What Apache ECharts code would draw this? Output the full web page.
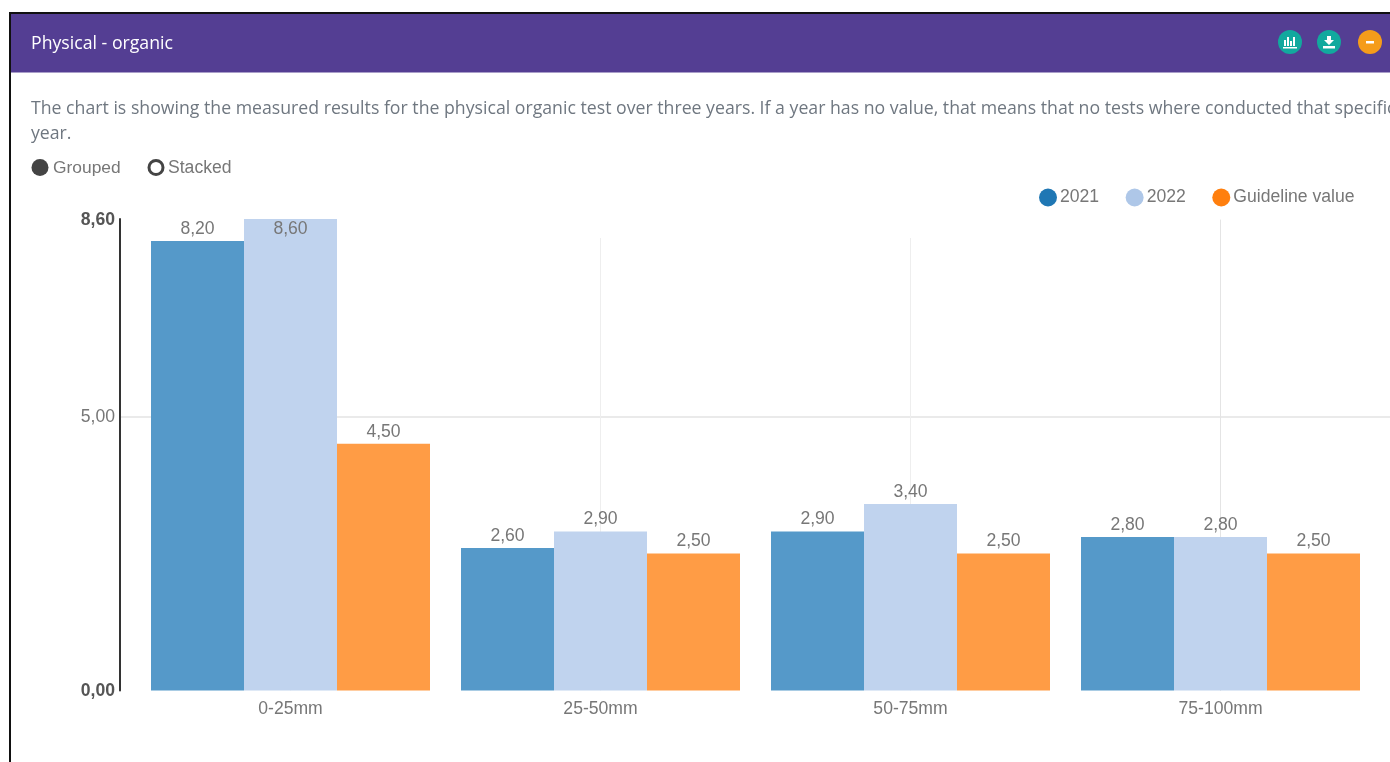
<!DOCTYPE html>
<html>
<head>
<meta charset="utf-8">
<style>html,body{margin:0;padding:0;background:#fff;overflow:hidden}#c{width:1390px;height:762px}</style>
<script src="https://cdn.jsdelivr.net/npm/echarts@6/dist/echarts.min.js"></script>
</head>
<body>
<div id="c"></div>
<script>
const categories = ['0-25mm', '25-50mm', '50-75mm', '75-100mm'];
const values2021 = [8.2, 2.6, 2.9, 2.8];
const values2022 = [8.6, 2.9, 3.4, 2.8];
const guideline = [4.5, 2.5, 2.5, 2.5];
const yMax = 8.6;
const yInterval = 5;
const titleText = 'Physical - organic';
const descLine1 = 'The chart is showing the measured results for the physical organic test over three years. If a year has no value, that means that no tests where conducted that specific';
const descLine2 = 'year.';

const fmt = v => v.toFixed(2).replace('.', ',');
const sans = '"Liberation Sans", Arial, sans-serif';
const bodyFont = '"Open Sans", sans-serif';
const grey = '#777';
const F = 17.6;

function barSeries(name, vals, color) {
  return {
    name, type: 'bar', xAxisIndex: 0, yAxisIndex: 0, barGap: 0, barCategoryGap: '10%',
    itemStyle: { color },
    label: { show: true, position: 'top', distance: 3, color: grey, fontFamily: sans, fontSize: F,
             formatter: p => fmt(p.value) },
    data: vals.map(v => v >= yMax
      ? { value: v, label: { position: 'insideTop', distance: 1 } }
      : v)
  };
}

const gridTop = 219, gridBottom = 762 - 690.5;
const option = {
  animation: false,
  backgroundColor: '#fff',
  grid: [
    { left: 135.5, width: 1240, top: gridTop, bottom: gridBottom },
    { left: 120, width: 1300, top: gridTop, bottom: gridBottom },
    { left: 290.5, width: 620, top: 238, bottom: gridBottom },
    { left: 1220.5, width: 10, top: 220, bottom: gridBottom }
  ],
  xAxis: [
    { gridIndex: 0, type: 'category', data: categories, axisLine: { show: false }, axisTick: { show: false },
      axisLabel: { color: grey, fontFamily: sans, fontSize: F, margin: 10 } },
    { gridIndex: 1, type: 'value', min: 0, max: 1, show: false },
    { gridIndex: 2, type: 'category', boundaryGap: false, data: categories.slice(0, 3),
      axisLine: { show: false }, axisTick: { show: false }, axisLabel: { show: false },
      splitLine: { show: true, lineStyle: { color: '#eeeeee', width: 1 } } },
    { gridIndex: 3, type: 'value', min: 0, max: 1, show: false }
  ],
  yAxis: [
    { gridIndex: 0, type: 'value', min: 0, max: yMax, interval: yInterval, offset: 15.5,
      axisLine: { show: true, lineStyle: { color: '#333', width: 2 } },
      axisTick: { show: false }, splitLine: { show: false },
      axisLabel: { showMinLabel: true, showMaxLabel: true, margin: 5, hideOverlap: false,
        fontFamily: sans, fontSize: F, color: grey, padding: [2, 0, 0, 0],
        formatter: v => (v === 0 || v === yMax) ? '{b|' + fmt(v) + '}' : fmt(v),
        rich: { b: { fontWeight: 'bold', color: '#555', fontFamily: sans, fontSize: 17.6 } } } },
    { gridIndex: 1, type: 'value', min: 0, max: yMax, interval: yInterval,
      axisLine: { show: false }, axisTick: { show: false }, axisLabel: { show: false },
      splitLine: { show: true, showMinLine: false, showMaxLine: false, lineStyle: { color: '#e3e3e3', width: 1.5 } } },
    { gridIndex: 2, type: 'value', min: 0, max: yMax, show: false },
    { gridIndex: 3, type: 'value', min: 0, max: yMax, axisTick: { show: false }, axisLabel: { show: false },
      splitLine: { show: false }, axisLine: { show: true, lineStyle: { color: '#e4e4e4', width: 1 } } }
  ],
  legend: {
    left: 1034, top: 183.5, icon: 'circle', itemWidth: 18, itemHeight: 18, itemGap: 26.5, selectedMode: false,
    textStyle: { color: grey, fontFamily: sans, fontSize: F, padding: [0, 0, 0, -2] },
    data: [
      { name: '2021', itemStyle: { color: '#1f77b4' } },
      { name: '2022', itemStyle: { color: '#aec7e8' } },
      { name: 'Guideline value', itemStyle: { color: '#ff7f0e' } }
    ]
  },
  series: [
    barSeries('2021', values2021, '#5599c9'),
    barSeries('2022', values2022, '#c0d3ee'),
    barSeries('Guideline value', guideline, '#ff9c45')
  ],
  graphic: { elements: [
    { type: 'rect', silent: true, shape: { x: 9, y: 12, width: 1381, height: 2 }, style: { fill: '#111' }, z: 10 },
    { type: 'rect', silent: true, shape: { x: 9, y: 12, width: 2, height: 750 }, style: { fill: '#111' }, z: 10 },
    { type: 'rect', silent: true, shape: { x: 11, y: 14, width: 1379, height: 58.5 }, style: { fill: '#543e93' }, z: 9 },
    { type: 'text', silent: true, x: 31, y: 44, z: 11, style: { text: titleText, fill: '#fff', font: '17.7px ' + bodyFont, textVerticalAlign: 'middle' } },
    { type: 'circle', silent: true, shape: { cx: 1290, cy: 42, r: 12 }, style: { fill: '#12a99e' }, z: 11 },
    { type: 'circle', silent: true, shape: { cx: 1329, cy: 42, r: 12 }, style: { fill: '#12a99e' }, z: 11 },
    { type: 'circle', silent: true, shape: { cx: 1370, cy: 42, r: 12 }, style: { fill: '#f59c1a' }, z: 11 },
    { type: 'rect', silent: true, shape: { x: 1283, y: 47, width: 14, height: 1.5 }, style: { fill: '#fff' }, z: 12 },
    { type: 'rect', silent: true, shape: { x: 1284, y: 40, width: 2, height: 6 }, style: { fill: '#fff' }, z: 12 },
    { type: 'rect', silent: true, shape: { x: 1287, y: 37, width: 2, height: 9 }, style: { fill: '#fff' }, z: 12 },
    { type: 'rect', silent: true, shape: { x: 1290, y: 41, width: 2, height: 5 }, style: { fill: '#fff' }, z: 12 },
    { type: 'rect', silent: true, shape: { x: 1293, y: 37, width: 2, height: 9 }, style: { fill: '#fff' }, z: 12 },
    { type: 'polygon', silent: true, shape: { points: [[1327, 36], [1331, 36], [1331, 40], [1334, 40], [1329, 45], [1324, 40], [1327, 40]] }, style: { fill: '#fff' }, z: 12 },
    { type: 'rect', silent: true, shape: { x: 1323, y: 46, width: 12, height: 2.5 }, style: { fill: '#fff' }, z: 12 },
    { type: 'rect', silent: true, shape: { x: 1366, y: 41, width: 8, height: 2.5 }, style: { fill: '#fff' }, z: 12 },
    { type: 'text', silent: true, x: 31, y: 109, z: 11, style: { text: descLine1, fill: '#6f7780', font: '17.7px ' + bodyFont, textVerticalAlign: 'middle' } },
    { type: 'text', silent: true, x: 31, y: 134, z: 11, style: { text: descLine2, fill: '#6f7780', font: '17.7px ' + bodyFont, textVerticalAlign: 'middle' } },
    { type: 'circle', silent: true, shape: { cx: 40, cy: 167.5, r: 8.5 }, style: { fill: '#444' }, z: 11 },
    { type: 'text', silent: true, x: 53, y: 168.5, z: 11, style: { text: 'Grouped', fill: grey, font: '17.4px ' + sans, textVerticalAlign: 'middle' } },
    { type: 'circle', silent: true, shape: { cx: 156, cy: 167.5, r: 7 }, style: { fill: '#fff', stroke: '#444', lineWidth: 3 }, z: 11 },
    { type: 'text', silent: true, x: 168, y: 168.5, z: 11, style: { text: 'Stacked', fill: grey, font: '17.6px ' + sans, textVerticalAlign: 'middle' } }
  ] }
};
const chart = echarts.init(document.getElementById('c'), null, { renderer: 'canvas', width: 1390, height: 762 });
chart.setOption(option);
</script>
</body>
</html>
